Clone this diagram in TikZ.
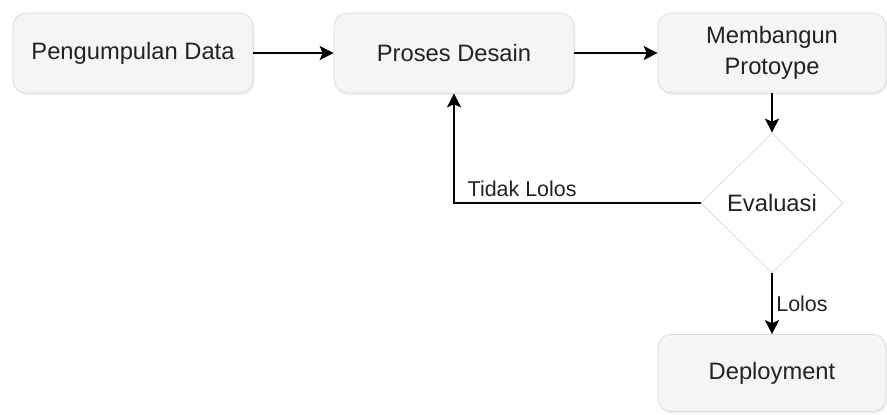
\documentclass[tikz,border=0pt]{standalone}
\usepackage{fontspec}
\setmainfont{Liberation Sans}
\usetikzlibrary{arrows.meta}
\usetikzlibrary{shapes.geometric}
\usetikzlibrary{shadows}
\definecolor{boxfill}{HTML}{F5F5F5}
\definecolor{boxline}{HTML}{D9D9D9}
\definecolor{txt}{HTML}{222222}
\tikzset{box/.style = {draw=boxline, fill=boxfill, rounded corners=0.26cm, minimum width=4.8cm, minimum height=1.6cm, align=center, text=txt, font=\fontsize{13.5}{17.6}\selectfont, drop shadow={opacity=0.12, shadow xshift=0.03cm, shadow yshift=-0.04cm}}}
\tikzset{dec/.style = {diamond, draw=boxline, fill=white, minimum width=2.84cm, minimum height=2.8cm, inner sep=0, text=txt, font=\fontsize{13.5}{17.6}\selectfont}}
\tikzset{arr/.style = {-{Stealth[length=0.28cm, width=0.28cm, inset=0.06cm]}, line width=1pt}}
\tikzset{lbl/.style = {font=\fontsize{12.2}{14}\selectfont, text=txt}}
\begin{document}
\begin{tikzpicture}[x=0.02cm, y=-0.02cm]
        \useasboundingbox (0,0) rectangle (887,414);
        \node[box] (pd) at (133,53) {Pengumpulan Data};
        \node[box] (ds) at (454,53) {Proses Desain};
        \node[box, minimum width=4.56cm] (mp) at (772,53) {Membangun\\Protoype};
        \node[dec] (ev) at (772,203) {Evaluasi};
        \node[box, minimum width=4.56cm, minimum height=1.54cm] (dp) at (772,373) {Deployment};
        \draw[arr] (pd) -- (ds);
        \draw[arr] (ds) -- (mp);
        \draw[arr] (mp) -- (ev);
        \draw[arr] (ev) -| (ds) node[lbl, pos=0.5, anchor=south west, xshift=0.14cm] {Tidak Lolos};
        \draw[arr] (ev) -- (dp) node[lbl, midway, right, inner sep=2pt] {Lolos};
    \end{tikzpicture}
\end{document}
